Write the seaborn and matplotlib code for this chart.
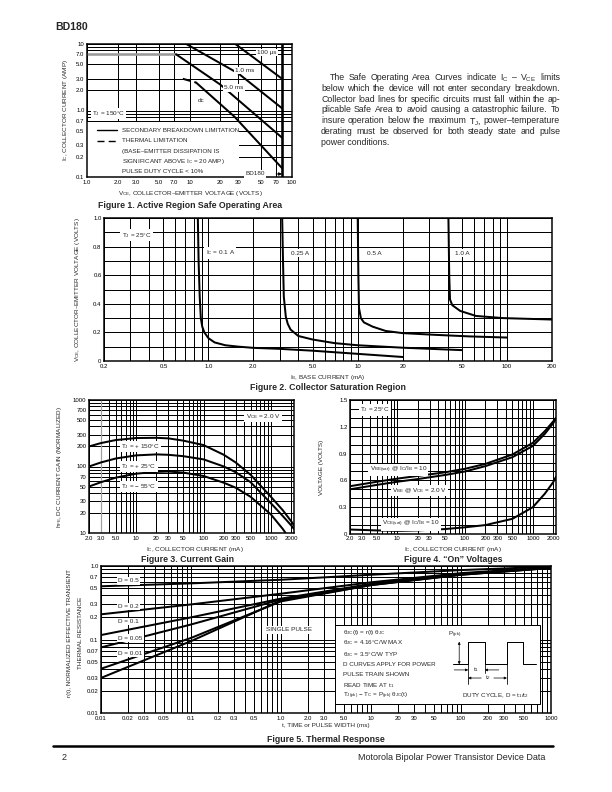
import matplotlib
matplotlib.use("Agg")
import matplotlib.pyplot as plt
import matplotlib.ticker as mticker
from matplotlib.patches import Rectangle
import seaborn as sns

sns.set_theme(style="white")
plt.rcParams["font.family"] = ["Liberation Sans", "DejaVu Sans"]
plt.rcParams["mathtext.default"] = "regular"

# ---- Figure 1: safe operating area (VCE in volts, IC in amps)
v_100us = [28, 80]
i_100us = [10, 3.0]
v_1ms = [9.3, 30, 80]
i_1ms = [10, 3.6, 1.08]
v_5ms = [7.4, 20, 80]
i_5ms = [7.0, 2.45, 0.39]
v_dc_thermal = [8.6, 11.6]
i_dc_thermal = [3.0, 2.63]
v_dc = [11.6, 27.4, 80]
i_dc = [2.63, 0.81, 0.136]
v_icmax = [1.0, 7.4]
i_icmax = [7.0, 7.0]
v_vcemax = [80, 80]
i_vcemax = [0.1, 10]

# ---- Figure 2: collector saturation (IB in mA, VCE in volts)
ib_01 = [0.85, 0.86, 0.875, 0.89, 0.91, 0.94, 1.0, 1.1, 1.3, 1.6, 2.0, 3.0, 5.0, 10, 20]
vce_01 = [1.0, 0.7, 0.45, 0.3, 0.24, 0.2, 0.16, 0.13, 0.11, 0.1, 0.092, 0.085, 0.072, 0.05, 0.028]
ib_025 = [3.12, 3.16, 3.2, 3.3, 3.4, 3.55, 4.0, 5.0, 7.0, 10, 20, 50]
vce_025 = [1.0, 0.7, 0.45, 0.31, 0.26, 0.22, 0.175, 0.15, 0.125, 0.11, 0.093, 0.076]
ib_05 = [10.0, 10.1, 10.2, 10.5, 11.0, 12.6, 15.4, 20, 33, 56, 100]
vce_05 = [1.0, 0.6, 0.37, 0.3, 0.27, 0.24, 0.21, 0.195, 0.183, 0.172, 0.164]
ib_10 = [40.5, 41.0, 41.5, 43, 48.6, 62, 94, 200]
vce_10 = [1.0, 0.6, 0.43, 0.39, 0.35, 0.315, 0.3, 0.29]

# ---- Figure 3: current gain (IC in mA)
ic_gain = [2, 3, 5, 10, 20, 30, 50, 100, 200, 300, 500, 1000, 1500, 2000, 2200]
hfe_150 = [200, 225, 250, 268, 270, 265, 245, 210, 150, 115, 75, 35, 22, 15, 13]
hfe_25 = [100, 115, 132, 147, 152, 150, 143, 128, 100, 82, 58, 28, 18, 13, 11.5]
ic_gain_m55 = [2, 3, 5, 10, 20, 30, 50, 100, 200, 300, 500, 1000, 1500, 1650]
hfe_m55 = [50, 58, 68, 78, 83, 84, 81, 72, 57, 48, 35, 19, 11.5, 10]

# ---- Figure 4: "on" voltages (IC in mA)
ic_on = [2, 5, 10, 20, 50, 100, 200, 500, 1000, 1500, 2000, 2200]
vbe_sat = [0.535, 0.585, 0.62, 0.65, 0.69, 0.73, 0.785, 0.89, 1.02, 1.15, 1.26, 1.3]
vbe_on = [0.5, 0.55, 0.585, 0.615, 0.66, 0.7, 0.76, 0.86, 0.985, 1.12, 1.24, 1.29]
vce_sat = [0.05, 0.04, 0.035, 0.04, 0.055, 0.075, 0.1, 0.17, 0.3, 0.45, 0.58, 0.64]

# ---- Figure 5: thermal response (t in ms)
t_pulse = [0.01, 0.1, 1, 10, 100, 1000]
r_d05 = [0.53, 0.58, 0.65, 0.76, 0.88, 0.98]
r_d02 = [0.22, 0.30, 0.42, 0.6, 0.8, 0.96]
r_d01 = [0.115, 0.2, 0.36, 0.57, 0.78, 0.95]
r_d005 = [0.078, 0.16, 0.35, 0.56, 0.77, 0.95]
r_d001 = [0.04, 0.105, 0.33, 0.55, 0.76, 0.94]
r_single = [0.03, 0.095, 0.34, 0.55, 0.76, 0.94]

para_lines = [
    "The Safe Operating Area Curves indicate I$_C$ – V$_{CE}$ limits",
    "below which the device will not enter secondary breakdown.",
    "Collector load lines for specific circuits must fall within the ap-",
    "plicable Safe Area to avoid causing a catastrophic failure. To",
    "insure operation below the maximum T$_J$, power–temperature",
    "derating must be observed for both steady state and pulse",
    "power conditions.",
]

FS = 6.4      # small chart text
FS_TK = 6.0   # tick labels
FS_T = 8.8    # figure captions
FS_P = 8.8    # body text

W, H = 612, 792
fig = plt.figure(figsize=(W / 72, H / 72), dpi=72)
fig.patch.set_facecolor("white")


def fx(x):
    return x / W


def fy(y):
    return 1 - y / H


def make_axes(l, t, r, b):
    return fig.add_axes([l / W, 1 - b / H, (r - l) / W, (b - t) / H])


def style(ax, xmaj, xlab, ymaj, ylab, xmin=(), ymin=()):
    ax.set_xticks(xmaj, labels=xlab)
    ax.set_yticks(ymaj, labels=ylab)
    ax.set_xticks(list(xmin), minor=True)
    ax.set_yticks(list(ymin), minor=True)
    ax.xaxis.set_minor_formatter(mticker.NullFormatter())
    ax.yaxis.set_minor_formatter(mticker.NullFormatter())
    ax.tick_params(which="both", length=0, labelsize=FS_TK, pad=2.5, colors="black")
    ax.grid(which="both", color="black", linewidth=1.0)
    ax.set_axisbelow(True)
    for s in ax.spines.values():
        s.set_linewidth(1.5)
        s.set_color("black")
    ax.set_xlabel("")
    ax.set_ylabel("")


def curve(ax, x, y, lw=2.0, **kw):
    sns.lineplot(x=x, y=y, ax=ax, color=kw.pop("color", "black"), linewidth=lw,
                 estimator=None, sort=False, legend=False, **kw)


box = dict(boxstyle="square,pad=0.2", fc="white", ec="none")


def label(ax, x, y, s, **kw):
    ax.text(x, y, s, fontsize=FS, ha=kw.pop("ha", "left"), va="center", bbox=box, zorder=5, **kw)


def log_minor(decades, skip):
    out = []
    for d in decades:
        for m in range(2, 10):
            v = round(m * d, 6)
            if v not in skip:
                out.append(v)
    return out


# header
fig.text(fx(55), fy(27), "BD180", fontsize=10.5, fontweight="black", va="center")

# ================= Figure 1
ax1 = make_axes(87, 44, 292, 177)
ax1.set_xscale("log")
ax1.set_yscale("log")
ax1.set_xlim(1, 100)
ax1.set_ylim(0.1, 10)
curve(ax1, v_icmax, i_icmax, lw=2.6, color="#9a9a9a")
curve(ax1, v_100us, i_100us)
curve(ax1, v_1ms, i_1ms)
curve(ax1, v_5ms, i_5ms)
curve(ax1, v_dc_thermal, i_dc_thermal, linestyle=(0, (4, 2)))
curve(ax1, v_dc, i_dc)
curve(ax1, v_vcemax, i_vcemax, lw=2.6)
fx1 = [1, 2, 3, 5, 7, 10, 20, 30, 50, 70, 100]
fy1 = [0.1, 0.2, 0.3, 0.5, 0.7, 1, 2, 3, 5, 7, 10]
style(ax1, fx1, ["1.0", "2.0", "3.0", "5.0", "7.0", "10", "20", "30", "50", "70", "100"],
      fy1, ["0.1", "0.2", "0.3", "0.5", "0.7", "1.0", "2.0", "3.0", "5.0", "7.0", "10"],
      ymin=[0.8, 0.9, 8, 9])
ax1.add_patch(Rectangle((0, 0), 0.74, 0.41, transform=ax1.transAxes, fc="white", ec="none", zorder=1))
ax1.plot([0.047, 0.145], [0.353, 0.353], transform=ax1.transAxes, color="black", lw=1.4, zorder=3)
ax1.plot([0.047, 0.145], [0.273, 0.273], transform=ax1.transAxes, color="black", lw=1.4,
         linestyle=(0, (5, 3)), zorder=3)
leg_text = ["SECONDARY BREAKDOWN LIMITATION", "THERMAL LIMITATION", "(BASE–EMITTER DISSIPATION IS",
            "SIGNIFICANT ABOVE I$_C$ = 20 AMP)", "PULSE DUTY CYCLE < 10%"]
for s, yy in zip(leg_text, [0.353, 0.273, 0.195, 0.115, 0.04]):
    ax1.text(0.169, yy, s, transform=ax1.transAxes, fontsize=6.2, va="center", zorder=4)
label(ax1, 1.12, 0.9, "T$_J$ = 150°C")
label(ax1, 57, 7.5, "100 µs", ha="center")
label(ax1, 34.8, 3.97, "1.0 ms", ha="center")
label(ax1, 27.2, 2.2, "5.0 ms", ha="center")
label(ax1, 13.1, 1.39, "dc", ha="center")
ax1.annotate("BD180", xy=(80, 0.111), xytext=(43.6, 0.111), fontsize=FS, ha="center", va="center",
             bbox=box, zorder=5,
             arrowprops=dict(arrowstyle="-|>", color="black", lw=1.0, mutation_scale=6, shrinkA=10, shrinkB=0))
fig.text(fx(66), fy(110), "I$_C$, COLLECTOR CURRENT (AMP)", rotation=90, fontsize=FS, ha="center", va="center")
fig.text(fx(190), fy(194), "V$_{CE}$, COLLECTOR–EMITTER VOLTAGE (VOLTS)", fontsize=FS, ha="center", va="center")
fig.text(fx(190), fy(205), "Figure 1. Active Region Safe Operating Area", fontsize=FS_T, fontweight="bold",
         ha="center", va="center")

# paragraph (justified)
renderer = fig.canvas.get_renderer()
p_left, p_right, p_top, p_lead, p_indent = 321, 560, 80, 10.8, 9
for i, line in enumerate(para_lines):
    yb = fy(p_top + i * p_lead)
    x0 = p_left + (p_indent if i == 0 else 0)
    if i == len(para_lines) - 1:
        fig.text(fx(x0), yb, line, fontsize=FS_P, va="baseline")
        continue
    words = line.split(" ")
    items = [fig.text(0, yb, w, fontsize=FS_P, va="baseline") for w in words]
    widths = [t.get_window_extent(renderer).width for t in items]
    gap = max((p_right - x0 - sum(widths)) / (len(words) - 1), 1.5)
    xx = x0
    for t, w in zip(items, widths):
        t.set_x(fx(xx))
        xx += w + gap

# ================= Figure 2
ax2 = make_axes(104, 218, 552, 361)
ax2.set_xscale("log")
ax2.set_xlim(0.2, 200)
ax2.set_ylim(0, 1.0)
for xs, ys in [(ib_01, vce_01), (ib_025, vce_025), (ib_05, vce_05), (ib_10, vce_10)]:
    curve(ax2, xs, ys)
fx2 = [0.2, 0.5, 1, 2, 5, 10, 20, 50, 100, 200]
style(ax2, fx2, ["0.2", "0.5", "1.0", "2.0", "5.0", "10", "20", "50", "100", "200"],
      [0, 0.2, 0.4, 0.6, 0.8, 1.0], ["0", "0.2", "0.4", "0.6", "0.8", "1.0"],
      xmin=log_minor([0.1, 1, 10, 100], set(fx2)), ymin=[0.1, 0.3, 0.5, 0.7, 0.9])
ax2.set_xlim(0.2, 200)
label(ax2, 0.263, 0.88, "T$_J$ = 25°C")
label(ax2, 0.96, 0.755, "I$_C$ = 0.1 A")
label(ax2, 3.6, 0.755, "0.25 A")
label(ax2, 11.5, 0.755, "0.5 A")
label(ax2, 45, 0.755, "1.0 A")
fig.text(fx(78), fy(290), "V$_{CE}$, COLLECTOR–EMITTER VOLTAGE (VOLTS)", rotation=90, fontsize=FS,
         ha="center", va="center")
fig.text(fx(328), fy(377), "I$_B$, BASE CURRENT (mA)", fontsize=FS, ha="center", va="center")
fig.text(fx(328), fy(388), "Figure 2. Collector Saturation Region", fontsize=FS_T, fontweight="bold",
         ha="center", va="center")

# ================= Figure 3
ic_ticks = [2, 3, 5, 10, 20, 30, 50, 100, 200, 300, 500, 1000, 2000]
ic_labels = ["2.0", "3.0", "5.0", "10", "20", "30", "50", "100", "200", "300", "500", "1000", "2000"]
ax3 = make_axes(89, 400, 294, 533)
ax3.set_xscale("log")
ax3.set_yscale("log")
curve(ax3, ic_gain, hfe_150)
curve(ax3, ic_gain, hfe_25)
curve(ax3, ic_gain_m55, hfe_m55)
fy3 = [10, 20, 30, 50, 70, 100, 200, 300, 500, 700, 1000]
style(ax3, ic_ticks, ic_labels, fy3, [str(v) for v in fy3],
      xmin=log_minor([1, 10, 100, 1000], set(ic_ticks)), ymin=log_minor([10, 100], set(fy3)))
ax3.set_xlim(2, 2200)
ax3.set_ylim(10, 1000)
ax3.axvline(3, color="#a0a0a0", lw=1.2, zorder=0.6)
label(ax3, 420, 560, "V$_{CE}$ = 2.0 V")
label(ax3, 6, 200, "T$_J$ = + 150°C")
label(ax3, 6, 100, "T$_J$ = + 25°C")
label(ax3, 6, 50, "T$_J$ = − 55°C")
fig.text(fx(60), fy(467), "h$_{FE}$, DC CURRENT GAIN (NORMALIZED)", rotation=90, fontsize=FS,
         ha="center", va="center")
fig.text(fx(195), fy(549), "I$_C$, COLLECTOR CURRENT (mA)", fontsize=FS, ha="center", va="center")
fig.text(fx(187), fy(560), "Figure 3. Current Gain", fontsize=FS_T, fontweight="bold", ha="center", va="center")

# ================= Figure 4
ax4 = make_axes(350, 400, 556, 534)
ax4.set_xscale("log")
curve(ax4, ic_on, vbe_sat)
curve(ax4, ic_on, vbe_on)
curve(ax4, ic_on, vce_sat)
style(ax4, ic_ticks, ic_labels, [0, 0.3, 0.6, 0.9, 1.2, 1.5], ["0", "0.3", "0.6", "0.9", "1.2", "1.5"],
      xmin=log_minor([1, 10, 100, 1000], set(ic_ticks)),
      ymin=[0.1, 0.2, 0.4, 0.5, 0.7, 0.8, 1.0, 1.1, 1.3, 1.4])
ax4.set_xlim(2, 2200)
ax4.set_ylim(0, 1.5)
label(ax4, 2.8, 1.39, "T$_J$ = 25°C")
label(ax4, 3.9, 0.716, "V$_{BE(sat)}$ @ I$_C$/I$_B$ = 10")
label(ax4, 8.3, 0.49, "V$_{BE}$ @ V$_{CE}$ = 2.0 V")
label(ax4, 5.9, 0.11, "V$_{CE(sat)}$ @ I$_C$/I$_B$ = 10")
fig.text(fx(322), fy(467), "VOLTAGE (VOLTS)", rotation=90, fontsize=FS, ha="center", va="center")
fig.text(fx(453), fy(549), "I$_C$, COLLECTOR CURRENT (mA)", fontsize=FS, ha="center", va="center")
fig.text(fx(453), fy(560), "Figure 4. “On” Voltages", fontsize=FS_T, fontweight="bold", ha="center", va="center")

# ================= Figure 5
ax5 = make_axes(101, 566, 551, 713)
ax5.set_xscale("log")
ax5.set_yscale("log")
for rr in [r_d05, r_d02, r_d01, r_d005, r_d001, r_single]:
    curve(ax5, t_pulse, rr)
fx5 = [0.01, 0.02, 0.03, 0.05, 0.1, 0.2, 0.3, 0.5, 1, 2, 3, 5, 10, 20, 30, 50, 100, 200, 300, 500, 1000]
fx5_lab = ["0.01", "0.02", "0.03", "0.05", "0.1", "0.2", "0.3", "0.5", "1.0", "2.0", "3.0", "5.0",
           "10", "20", "30", "50", "100", "200", "300", "500", "1000"]
fy5 = [0.01, 0.02, 0.03, 0.05, 0.07, 0.1, 0.2, 0.3, 0.5, 0.7, 1.0]
style(ax5, fx5, fx5_lab, fy5, ["0.01", "0.02", "0.03", "0.05", "0.07", "0.1", "0.2", "0.3", "0.5", "0.7", "1.0"],
      xmin=log_minor([0.01, 0.1, 1, 10, 100], set(fx5)), ymin=log_minor([0.01, 0.1], set(fy5)))
ax5.set_xlim(0.01, 1000)
ax5.set_ylim(0.01, 1.0)
for s, yy in [("D = 0.5", 0.63), ("D = 0.2", 0.28), ("D = 0.1", 0.175), ("D = 0.05", 0.104), ("D = 0.01", 0.065)]:
    label(ax5, 0.0156, yy, s)
label(ax5, 0.69, 0.135, "SINGLE PULSE")

# info box with pulse train sketch
ta = ax5.transAxes
FS_B = 6.3
ax5.add_patch(Rectangle((0.52, 0.061), 0.456, 0.538, transform=ta, fc="white", ec="black", lw=1.0, zorder=4))
info = ["θ$_{JC}$(t) = r(t) θ$_{JC}$", "θ$_{JC}$ = 4.16°C/W MAX", "θ$_{JC}$ = 3.5°C/W TYP",
        "D CURVES APPLY FOR POWER", "PULSE TRAIN SHOWN", "READ TIME AT t$_1$",
        "T$_{J(pk)}$ − T$_C$ = P$_{(pk)}$ θ$_{JC}$(t)"]
for s, yy in zip(info, [0.546, 0.478, 0.401, 0.327, 0.259, 0.184, 0.116]):
    ax5.text(0.538, yy, s, transform=ta, fontsize=FS_B, va="center", zorder=5)
ax5.text(0.802, 0.116, "DUTY CYCLE, D = t$_1$/t$_2$", transform=ta, fontsize=FS_B, va="center", zorder=5)
px = [0.782, 0.816, 0.816, 0.853, 0.853, 0.902, 0.902, 0.938, 0.938, 0.967]
py = [0.331, 0.331, 0.485, 0.485, 0.331, 0.331, 0.485, 0.485, 0.331, 0.331]
ax5.plot(px, py, transform=ta, color="black", lw=1.0, zorder=5, clip_on=False)
for xv, yl in [(0.816, 0.20), (0.853, 0.27), (0.902, 0.20)]:
    ax5.plot([xv, xv], [0.331, yl], transform=ta, color="black", lw=0.8, zorder=5)
arw = dict(arrowstyle="-|>", color="black", lw=0.7, mutation_scale=5, shrinkA=0, shrinkB=0)
ax5.annotate("", xy=(0.796, 0.331), xytext=(0.796, 0.485), xycoords=ta, textcoords=ta, zorder=6,
             arrowprops=dict(arrowstyle="<|-|>", color="black", lw=0.7, mutation_scale=5, shrinkA=0, shrinkB=0))
ax5.text(0.787, 0.53, "P$_{(pk)}$", transform=ta, fontsize=FS_B, ha="center", va="center", zorder=6)
ax5.annotate("", xy=(0.816, 0.293), xytext=(0.785, 0.293), xycoords=ta, textcoords=ta, arrowprops=arw, zorder=6)
ax5.annotate("", xy=(0.853, 0.293), xytext=(0.884, 0.293), xycoords=ta, textcoords=ta, arrowprops=arw, zorder=6)
ax5.text(0.8345, 0.293, "t$_1$", transform=ta, fontsize=FS_B, ha="center", va="center", zorder=6)
ax5.annotate("", xy=(0.816, 0.238), xytext=(0.845, 0.238), xycoords=ta, textcoords=ta, arrowprops=arw, zorder=6)
ax5.annotate("", xy=(0.902, 0.238), xytext=(0.873, 0.238), xycoords=ta, textcoords=ta, arrowprops=arw, zorder=6)
ax5.text(0.859, 0.238, "t$_2$", transform=ta, fontsize=FS_B, ha="center", va="center", zorder=6)

fig.text(fx(70), fy(633), "r(t), NORMALIZED EFFECTIVE TRANSIENT", rotation=90, fontsize=FS, ha="center", va="center")
fig.text(fx(80), fy(633), "THERMAL RESISTANCE", rotation=90, fontsize=FS, ha="center", va="center")
fig.text(fx(326), fy(725), "t, TIME or PULSE WIDTH (ms)", fontsize=FS, ha="center", va="center")
fig.text(fx(326), fy(740), "Figure 5. Thermal Response", fontsize=FS_T, fontweight="bold", ha="center", va="center")

# footer
fig.add_artist(plt.Line2D([fx(53), fx(553)], [fy(746), fy(746)], color="black", lw=2.5))
fig.text(fx(62), fy(757), "2", fontsize=9, va="center")
fig.text(fx(545), fy(757), "Motorola Bipolar Power Transistor Device Data", fontsize=9, ha="right", va="center")

fig.savefig("out.png", dpi=72, facecolor="white")
